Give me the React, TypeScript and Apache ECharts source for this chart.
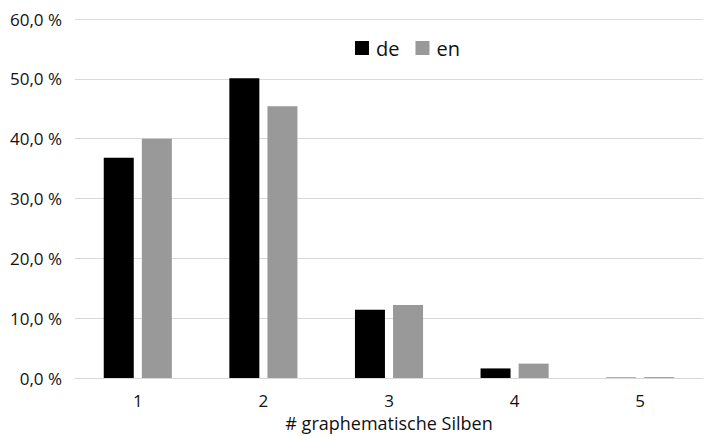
import React, { useEffect, useRef } from "react";
import * as echarts from "echarts";

const categories = ["1", "2", "3", "4", "5"];
const deValues = [36.8, 50.1, 11.4, 1.6, 0.05];
const enValues = [40.0, 45.4, 12.2, 2.4, 0.15];
const yTicks = [0, 10, 20, 30, 40, 50, 60];

const FONT = "'Open Sans', 'Noto Sans', sans-serif";

export default function App() {
  const ref = useRef<HTMLDivElement>(null);
  useEffect(() => {
    const chart = echarts.init(ref.current!, null, { renderer: "svg" });
    chart.setOption({
      animation: false,
      textStyle: { fontFamily: FONT },
      legend: {
        top: 33,
        left: 350,
        itemWidth: 14,
        itemHeight: 14,
        itemGap: 16,
        icon: "rect",
        textStyle: { fontSize: 20, color: "#111", fontFamily: FONT, padding: [0, 0, 0, 2] },
        data: ["de", "en"],
      },
      grid: { left: 75, right: 23, top: 19, bottom: 58, outerBoundsMode: "none" },
      xAxis: {
        type: "category",
        data: categories,
        name: "# graphematische Silben",
        nameLocation: "middle",
        nameGap: 28,
        nameTextStyle: { fontSize: 18, color: "#111", fontFamily: FONT },
        axisLine: { lineStyle: { color: "#d9d9d9", width: 1 } },
        axisTick: { show: false },
        axisLabel: { fontSize: 17, color: "#111", margin: 14, fontFamily: FONT },
      },
      yAxis: {
        type: "value",
        min: yTicks[0],
        max: yTicks[yTicks.length - 1],
        interval: 10,
        axisLine: { show: false },
        axisTick: { show: false },
        splitLine: { lineStyle: { color: "#d9d9d9", width: 1 } },
        axisLabel: {
          fontSize: 17,
          color: "#111",
          margin: 13,
          fontFamily: FONT,
          formatter: (v: number) => v.toFixed(1).replace(".", ",") + " %",
        },
      },
      series: [
        {
          name: "de",
          type: "bar",
          data: deValues,
          itemStyle: { color: "#000000" },
          barWidth: 30,
          barGap: "27%",
        },
        {
          name: "en",
          type: "bar",
          data: enValues,
          itemStyle: { color: "#999999" },
          barWidth: 30,
          barGap: "27%",
        },
      ],
    });
    return () => chart.dispose();
  }, []);
  return (
    <div
      ref={ref}
      style={{ position: "absolute", left: 0, top: 0, width: 726, height: 436 }}
    />
  );
}
